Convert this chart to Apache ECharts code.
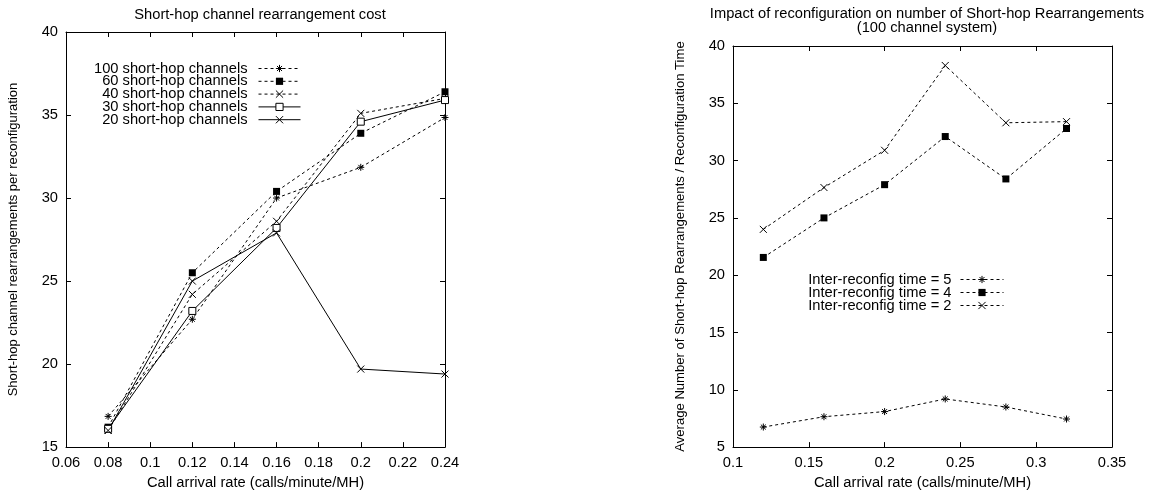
<!DOCTYPE html>
<html>
<head>
<meta charset="utf-8">
<script src="https://cdn.jsdelivr.net/npm/echarts@6/dist/echarts.min.js"></script>
<style>
  html, body { margin: 0; padding: 0; background: #fff; }
  #chart { width: 1151px; height: 495px; }
</style>
</head>
<body>
<div id="chart"></div>
<script>
// left plot: rearrangement cost per reconfiguration
const rateA = [0.08, 0.12, 0.16, 0.2, 0.24]
const ch100 = [16.85, 22.7, 30.0, 31.85, 34.85]
const ch60 = [16.2, 25.5, 30.4, 33.9, 36.4]
const ch40 = [16.0, 24.2, 28.6, 35.1, 36.0]
const ch30 = [16.1, 23.2, 28.2, 34.6, 35.9]
const ch20 = [16.0, 25.0, 27.9, 19.7, 19.4]

// right plot: rearrangements / reconfiguration time (100 channels)
const rateB = [0.12, 0.16, 0.2, 0.24, 0.28, 0.32]
const t5 = [6.75, 7.65, 8.1, 9.2, 8.5, 7.45]
const t4 = [21.55, 25.0, 27.9, 32.1, 28.4, 32.8]
const t2 = [24.0, 27.65, 30.9, 38.3, 33.3, 33.4]

const FONT = 'Liberation Sans, Arial, Helvetica, sans-serif'
const FS = 14.7
const STAR = 'path://M0,5L10,5M5,0L5,10M1.5,1.5L8.5,8.5M8.5,1.5L1.5,8.5'
const CROSS = 'path://M0,0L10,10M10,0L0,10'
const BOX = 'path://M0,0L10,0L10,10L0,10Z'

function pair(xs, ys) {
  return xs.map((x, i) => [x, ys[i]])
}

function markStyle(symbol) {
  if (symbol === BOX) return { color: '#fff', borderColor: '#000', borderWidth: 1 }
  if (symbol.indexOf('path://') === 0) return { color: 'transparent', borderColor: '#000', borderWidth: 1 }
  return { color: '#000', borderColor: '#000', borderWidth: 0 }
}

// gnuplot-like line: black, thin, optional dash, marker
function makeSeries(name, xs, ys, symbol, dashed, idx) {
  return {
    name: name,
    type: 'line',
    xAxisIndex: idx,
    yAxisIndex: idx,
    data: pair(xs, ys),
    symbol: symbol,
    symbolSize: 7,
    showAllSymbol: true,
    lineStyle: { color: '#000', width: 1, type: dashed ? [3, 3] : 'solid' },
    itemStyle: markStyle(symbol),
    emphasis: { disabled: true },
    z: 3,
  }
}

function legendItem(name, symbol, dashed) {
  return {
    name: name,
    itemStyle: markStyle(symbol),
    lineStyle: { color: '#000', width: 1, type: dashed ? [3, 3] : 'solid' },
  }
}

function valueAxis(opt) {
  return Object.assign({
    type: 'value',
    axisLine: { show: true, onZero: false, lineStyle: { color: '#000', width: 1 } },
    axisTick: { show: true, inside: true, length: 5, lineStyle: { color: '#000' } },
    splitLine: { show: false },
    axisLabel: { color: '#000', fontSize: FS, fontFamily: FONT, margin: 8 },
    nameTextStyle: { color: '#000', fontSize: FS, fontFamily: FONT },
  }, opt)
}

function mirror(opt) {
  return valueAxis(Object.assign({ axisLabel: { show: false } }, opt))
}

const chart = echarts.init(document.getElementById('chart'), null, { renderer: 'canvas' })

const option = {
  animation: false,
  backgroundColor: '#fff',
  textStyle: { fontFamily: FONT, color: '#000' },
  title: [
    {
      text: 'Short-hop channel rearrangement cost',
      left: 255, top: 2, textAlign: 'center',
      textStyle: { fontSize: FS, fontWeight: 'normal', color: '#000', fontFamily: FONT },
    },
    {
      text: 'Impact of reconfiguration on number of Short-hop Rearrangements\n(100 channel system)',
      left: 922, top: 2, textAlign: 'center',
      textStyle: { fontSize: FS, fontWeight: 'normal', color: '#000', fontFamily: FONT, lineHeight: 14, align: 'center' },
    },
  ],
  legend: [
    {
      orient: 'vertical',
      right: 845, top: 56,
      align: 'right',
      itemWidth: 42, itemHeight: 9, itemGap: -2.2,
      data: [
        legendItem('100 short-hop channels', STAR, true),
        legendItem('60 short-hop channels', 'rect', true),
        legendItem('40 short-hop channels', CROSS, true),
        legendItem('30 short-hop channels', BOX, false),
        legendItem('20 short-hop channels', CROSS, false),
      ],
      formatter: '{a|{name}}',
      textStyle: {
        fontFamily: FONT, fontSize: FS, color: '#000',
        rich: { a: { width: 155, align: 'right', fontSize: FS, lineHeight: 12, fontFamily: FONT, padding: [0, 6, 0, 0] } },
      },
    },
    {
      orient: 'vertical',
      right: 142, top: 267,
      align: 'right',
      itemWidth: 43, itemHeight: 9, itemGap: -2,
      data: [
        legendItem('Inter-reconfig time = 5', STAR, true),
        legendItem('Inter-reconfig time = 4', 'rect', true),
        legendItem('Inter-reconfig time = 2', CROSS, true),
      ],
      formatter: '{a|{name}}',
      textStyle: {
        fontFamily: FONT, fontSize: FS, color: '#000',
        rich: { a: { width: 160, align: 'right', fontSize: FS, lineHeight: 13, fontFamily: FONT, padding: [0, 4, 0, 0] } },
      },
    },
  ],
  grid: [
    { left: 66, top: 32, width: 379, height: 420 },
    { left: 733, top: 46, width: 379, height: 406 },
  ],
  xAxis: [
    valueAxis({
      gridIndex: 0, min: 0.06, max: 0.24, interval: 0.02, position: 'bottom',
      name: 'Call arrival rate (calls/minute/MH)', nameLocation: 'middle', nameGap: 27,
    }),
    valueAxis({
      gridIndex: 1, min: 0.1, max: 0.35, interval: 0.05, position: 'bottom',
      name: 'Call arrival rate (calls/minute/MH)', nameLocation: 'middle', nameGap: 27,
    }),
    mirror({ gridIndex: 0, min: 0.06, max: 0.24, interval: 0.02, position: 'top' }),
    mirror({ gridIndex: 1, min: 0.1, max: 0.35, interval: 0.05, position: 'top' }),
  ],
  yAxis: [
    valueAxis({
      gridIndex: 0, min: 15, max: 40, interval: 5, position: 'left',
      name: 'Short-hop channel rearrangements per reconfiguration', nameLocation: 'middle', nameGap: 46,
      nameTextStyle: { color: '#000', fontSize: 13, fontFamily: FONT },
    }),
    valueAxis({
      gridIndex: 1, min: 5, max: 40, interval: 5, position: 'left',
      name: 'Average Number of Short-hop Rearrangements / Reconfiguration Time', nameLocation: 'middle', nameGap: 46,
      nameTextStyle: { color: '#000', fontSize: 13.1, fontFamily: FONT },
    }),
    mirror({ gridIndex: 0, min: 15, max: 40, interval: 5, position: 'right' }),
    mirror({ gridIndex: 1, min: 5, max: 40, interval: 5, position: 'right' }),
  ],
  series: [
    makeSeries('100 short-hop channels', rateA, ch100, STAR, true, 0),
    makeSeries('60 short-hop channels', rateA, ch60, 'rect', true, 0),
    makeSeries('40 short-hop channels', rateA, ch40, CROSS, true, 0),
    makeSeries('30 short-hop channels', rateA, ch30, BOX, false, 0),
    makeSeries('20 short-hop channels', rateA, ch20, CROSS, false, 0),
    makeSeries('Inter-reconfig time = 5', rateB, t5, STAR, true, 1),
    makeSeries('Inter-reconfig time = 4', rateB, t4, 'rect', true, 1),
    makeSeries('Inter-reconfig time = 2', rateB, t2, CROSS, true, 1),
  ],
}

chart.setOption(option)
</script>
</body>
</html>
